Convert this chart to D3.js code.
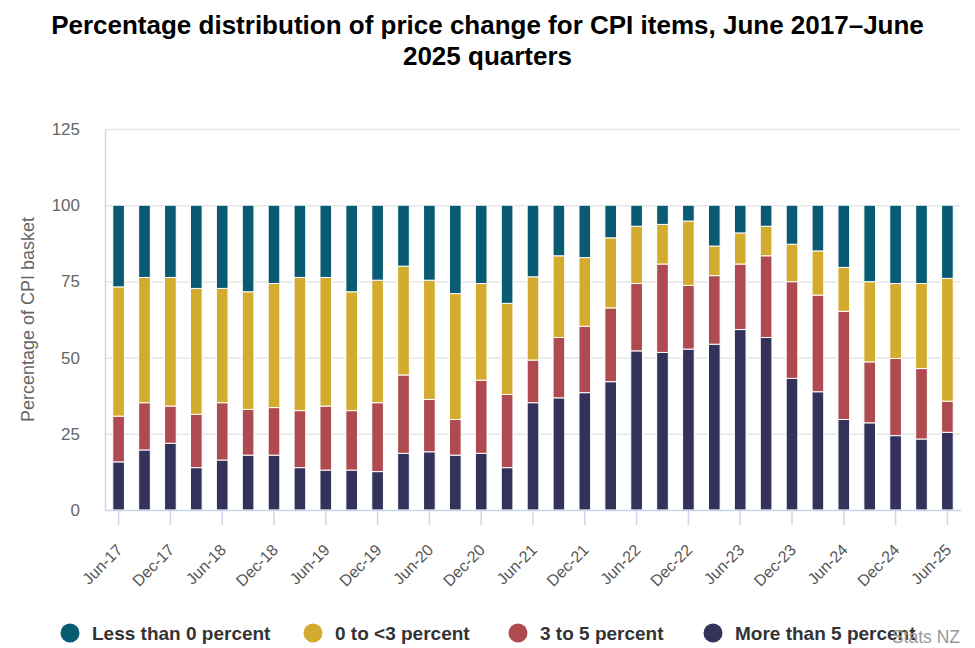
<!DOCTYPE html>
<html>
<head>
<meta charset="utf-8">
<script src="https://cdn.jsdelivr.net/npm/d3@7"></script>
<style>
  body { margin: 0; background: #fff; }
  svg { font-family: "Liberation Sans", Arial, sans-serif; }
</style>
</head>
<body>
<div id="chart"></div>
<script>
let width = 975, height = 648;
const margin = {top: 129, right: 14, bottom: 138, left: 105};

// quarters, Jun-17 to Jun-25
const quarters = ["Jun-17","Sep-17","Dec-17","Mar-18","Jun-18","Sep-18","Dec-18","Mar-19",
  "Jun-19","Sep-19","Dec-19","Mar-20","Jun-20","Sep-20","Dec-20","Mar-21",
  "Jun-21","Sep-21","Dec-21","Mar-22","Jun-22","Sep-22","Dec-22","Mar-23",
  "Jun-23","Sep-23","Dec-23","Mar-24","Jun-24","Sep-24","Dec-24","Mar-25","Jun-25"];

const seriesNames = ["Less than 0 percent", "0 to <3 percent", "3 to 5 percent", "More than 5 percent"];

// percent of CPI basket
const moreThan5 = [15.8,19.7,21.9,13.9,16.4,18.0,18.0,13.9,13.1,13.1,12.6,18.6,19.1,18.0,18.6,13.9,
  35.2,36.8,38.5,42.1,52.2,51.7,52.8,54.4,59.2,56.6,43.2,38.8,29.7,28.6,24.4,23.3,25.5];
const from3to5 = [15.0,15.5,12.2,17.5,18.8,15.0,15.6,18.7,21.0,19.5,22.6,25.7,17.2,11.7,24.0,24.0,
  14.0,19.8,21.8,24.2,22.1,29.0,20.9,22.5,21.5,26.8,31.7,31.7,35.5,20.0,25.3,23.1,10.2];
const from0to3 = [42.4,41.1,42.2,41.3,37.5,38.6,40.7,43.7,42.2,39.0,40.2,35.7,39.1,41.3,31.7,29.9,
  27.3,26.8,22.5,23.0,18.8,13.0,21.1,9.7,10.2,9.7,12.3,14.5,14.4,26.3,24.6,27.9,40.3];
const lessThan0 = [26.8,23.7,23.7,27.3,27.3,28.4,25.7,23.7,23.7,28.4,24.6,20.0,24.6,29.0,25.7,32.2,
  23.5,16.6,17.2,10.7,6.9,6.3,5.2,13.4,9.1,6.9,12.8,15.0,20.4,25.1,25.7,25.7,24.0];

const yTicks = [0, 25, 50, 75, 100, 125];

const colors = {
  "Less than 0 percent": "#085b72",
  "0 to <3 percent": "#d3ab2e",
  "3 to 5 percent": "#af4b50",
  "More than 5 percent": "#33325b"
};

// build rows for the stack
const data = quarters.map(function(q, i){
  return {
    quarter: q,
    "More than 5 percent": moreThan5[i],
    "3 to 5 percent": from3to5[i],
    "0 to <3 percent": from0to3[i],
    "Less than 0 percent": lessThan0[i]
  };
});

const stackOrder = ["More than 5 percent", "3 to 5 percent", "0 to <3 percent", "Less than 0 percent"];
const stacked = d3.stack().keys(stackOrder)(data);

let svg = d3.select('#chart')
  .append('svg')
  .attr('width', width)
  .attr('height', height);

let x = d3.scaleBand()
  .domain(quarters)
  .range([margin.left, width - margin.right])
  .paddingInner(0.55)
  .paddingOuter(0.3);

let y = d3.scaleLinear()
  .domain([0, 125])
  .range([height - margin.bottom, margin.top]);

// title
svg.append('text')
  .attr('x', width / 2)
  .attr('y', 34)
  .attr('text-anchor', 'middle')
  .style('font-size', '26px')
  .style('font-weight', 'bold')
  .attr('fill', '#000')
  .text('Percentage distribution of price change for CPI items, June 2017\u2013June');
svg.append('text')
  .attr('x', width / 2)
  .attr('y', 65)
  .attr('text-anchor', 'middle')
  .style('font-size', '26px')
  .style('font-weight', 'bold')
  .attr('fill', '#000')
  .text('2025 quarters');

// gridlines
svg.append('g')
  .selectAll('line')
  .data(yTicks.filter(function(d){ return d > 0; }))
  .enter()
  .append('line')
  .attr('x1', margin.left)
  .attr('x2', width - margin.right)
  .attr('y1', function(d){ return y(d) + 0.5; })
  .attr('y2', function(d){ return y(d) + 0.5; })
  .attr('stroke', '#e6e6e6')
  .attr('stroke-width', 1.5);

// y axis
let yAxis = svg.append('g')
  .attr('transform', 'translate(' + margin.left + ',0)')
  .call(d3.axisLeft(y).tickValues(yTicks).tickSize(0).tickPadding(25));
yAxis.select('.domain').attr('stroke', '#ccd6eb').attr('stroke-width', 1.5);
yAxis.selectAll('text')
  .style('font-size', '17px')
  .style('font-family', '"Liberation Sans", Arial, sans-serif')
  .attr('fill', '#666');

svg.append('text')
  .attr('transform', 'translate(34,' + y(62.5) + ') rotate(-90)')
  .attr('text-anchor', 'middle')
  .style('font-size', '18px')
  .attr('fill', '#666')
  .text('Percentage of CPI basket');

// bars
svg.append('g')
  .selectAll('g')
  .data(stacked)
  .enter()
  .append('g')
  .attr('fill', function(d){ return colors[d.key]; })
  .selectAll('rect')
  .data(function(d){ return d; })
  .enter()
  .append('rect')
  .attr('x', function(d){ return x(d.data.quarter); })
  .attr('width', x.bandwidth())
  .attr('y', function(d){ return y(d[1]); })
  .attr('height', function(d){ return y(d[0]) - y(d[1]); })
  .attr('stroke', '#fff')
  .attr('stroke-width', 1);

// x axis
let xAxis = svg.append('g')
  .attr('transform', 'translate(0,' + (height - margin.bottom) + ')')
  .call(d3.axisBottom(x)
    .tickValues(quarters.filter(function(d, i){ return i % 2 === 0; }))
    .tickSize(15)
    .tickSizeOuter(0));
xAxis.select('.domain').attr('stroke', '#ccd6eb').attr('stroke-width', 1.5);
xAxis.selectAll('.tick line').attr('stroke', '#ccd6eb').attr('stroke-width', 1.5);
xAxis.selectAll('text')
  .style('font-size', '16px')
  .style('font-family', '"Liberation Sans", Arial, sans-serif')
  .attr('fill', '#555')
  .attr('text-anchor', 'end')
  .attr('x', 0)
  .attr('y', 0)
  .attr('dy', '0.35em')
  .attr('transform', 'translate(1,37) rotate(-45)');

// legend
const legendX = [70, 313, 518, 713];
let legend = svg.append('g')
  .selectAll('g')
  .data(seriesNames)
  .enter()
  .append('g')
  .attr('transform', function(d, i){ return 'translate(' + legendX[i] + ',633)'; });
legend.append('circle')
  .attr('r', 9.5)
  .attr('fill', function(d){ return colors[d]; });
legend.append('text')
  .attr('x', 22)
  .attr('dy', '0.35em')
  .style('font-size', '19px')
  .style('font-weight', 'bold')
  .attr('fill', '#333')
  .text(function(d){ return d; });

// credit
svg.append('text')
  .attr('x', 960)
  .attr('y', 643)
  .attr('text-anchor', 'end')
  .style('font-size', '17.5px')
  .attr('fill', '#999')
  .text('Stats NZ');
</script>
</body>
</html>
